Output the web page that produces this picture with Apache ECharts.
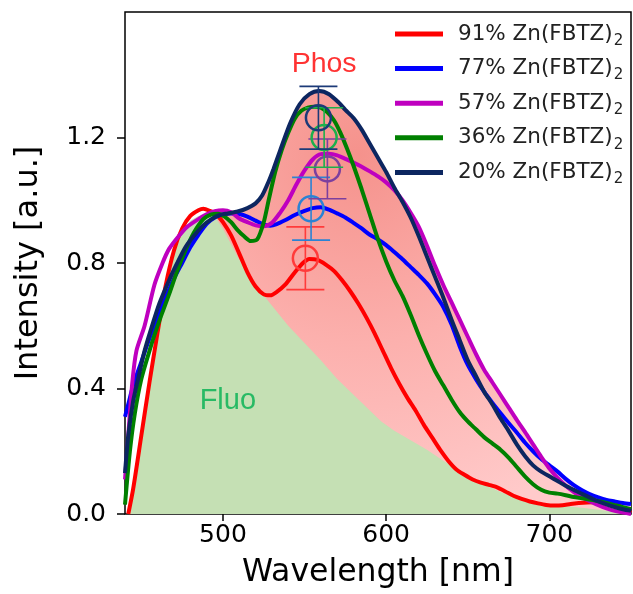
<!DOCTYPE html>
<html>
<head>
<meta charset="utf-8">
<script src="https://cdn.jsdelivr.net/npm/echarts@6/dist/echarts.min.js"></script>
<style>
html,body{margin:0;padding:0;background:#fff;}
#chart{width:633px;height:594px;}
</style>
</head>
<body>
<div id="chart"></div>
<script>
// ---- data (wavelength nm, intensity a.u.) ----
const seriesLabels = ['91%', '77%', '57%', '36%', '20%'];
const compound = 'Zn(FBTZ)';
const subscript = '2';
const seriesColors = ['#ff0000','#0000ff','#bf00bf','#008000','#0c2660'];
const errColors = ['#ff3b3b','#2a83d4','#7d3f9e','#1cb04c','#1c3a78'];

const red91 = [[442,0],[445,0.08],[450,0.25],[455,0.42],[460,0.58],[465,0.73],[470,0.84],[475,0.91],[480,0.95],[485,0.968],[488,0.973],[492,0.966],[496,0.955],[500,0.93],[505,0.888],[510,0.83],[515,0.77],[520,0.725],[525,0.70],[529,0.697],[533,0.708],[538,0.73],[544,0.77],[549,0.80],[553,0.813],[558,0.81],[563,0.795],[568,0.775],[573,0.745],[578,0.71],[583,0.67],[588,0.625],[593,0.575],[598,0.52],[603,0.465],[608,0.415],[613,0.37],[618,0.33],[623,0.285],[628,0.245],[633,0.205],[638,0.17],[643,0.142],[648,0.125],[653,0.11],[658,0.1],[663,0.093],[668,0.085],[673,0.072],[678,0.058],[683,0.048],[688,0.04],[693,0.034],[698,0.029],[703,0.027],[708,0.028],[713,0.032],[718,0.035],[723,0.037],[730,0.038],[737,0.037],[742,0.03],[746,0.015],[750,0.003]];

const blue77 = [[440,0.31],[442,0.35],[445,0.41],[450,0.485],[455,0.56],[460,0.625],[465,0.69],[470,0.75],[475,0.80],[480,0.85],[485,0.89],[490,0.925],[495,0.945],[500,0.955],[505,0.958],[510,0.956],[515,0.948],[520,0.935],[525,0.922],[529,0.919],[533,0.924],[538,0.936],[544,0.953],[550,0.966],[555,0.975],[560,0.978],[565,0.97],[570,0.958],[575,0.945],[580,0.928],[585,0.91],[590,0.89],[595,0.875],[600,0.857],[605,0.835],[610,0.812],[615,0.787],[620,0.762],[625,0.735],[630,0.70],[635,0.66],[640,0.605],[645,0.535],[650,0.475],[655,0.43],[660,0.39],[665,0.355],[670,0.322],[675,0.29],[680,0.26],[685,0.228],[690,0.2],[695,0.175],[700,0.155],[705,0.135],[710,0.112],[715,0.092],[720,0.076],[725,0.063],[730,0.053],[735,0.045],[740,0.04],[745,0.035],[750,0.032]];

const magenta57 = [[440,0.11],[442,0.25],[444.5,0.42],[447,0.52],[452,0.60],[458,0.73],[463,0.80],[467,0.845],[472,0.88],[478,0.915],[485,0.94],[490,0.955],[495,0.965],[500,0.968],[505,0.962],[510,0.942],[515,0.93],[520,0.92],[525,0.917],[530,0.928],[535,0.96],[540,1.0],[545,1.05],[550,1.095],[555,1.13],[560,1.147],[565,1.148],[570,1.143],[575,1.132],[580,1.12],[585,1.107],[590,1.092],[595,1.076],[600,1.057],[605,1.032],[610,1.0],[615,0.96],[620,0.915],[625,0.855],[630,0.79],[635,0.73],[640,0.675],[645,0.62],[650,0.565],[655,0.51],[660,0.46],[665,0.42],[670,0.38],[675,0.34],[680,0.30],[685,0.262],[690,0.222],[695,0.182],[700,0.145],[705,0.115],[710,0.09],[715,0.07],[720,0.053],[725,0.04],[730,0.028],[735,0.018],[740,0.01],[745,0.005],[750,0.0]];

const green36 = [[440,0.03],[443,0.2],[446,0.32],[450,0.43],[455,0.52],[458,0.57],[462,0.63],[467,0.70],[472,0.775],[477,0.84],[482,0.895],[488,0.94],[493,0.955],[497,0.957],[501,0.948],[505,0.93],[509,0.905],[513,0.885],[517,0.87],[521,0.875],[525,0.93],[528,1.0],[532,1.09],[536,1.16],[540,1.215],[544,1.26],[548,1.285],[552,1.295],[556,1.298],[560,1.295],[564,1.28],[568,1.255],[572,1.215],[576,1.165],[580,1.11],[585,1.035],[590,0.955],[595,0.875],[600,0.805],[605,0.745],[610,0.695],[615,0.635],[620,0.57],[625,0.51],[630,0.455],[635,0.41],[640,0.365],[645,0.325],[650,0.295],[655,0.27],[660,0.245],[665,0.225],[670,0.205],[675,0.18],[680,0.15],[685,0.12],[690,0.095],[695,0.077],[700,0.068],[705,0.065],[710,0.06],[715,0.054],[720,0.05],[728,0.043],[735,0.035],[741,0.027],[750,0.015]];

const navy20 = [[440,0.13],[442,0.25],[445,0.36],[448,0.43],[452,0.52],[456,0.59],[461,0.67],[467,0.745],[472,0.80],[477,0.85],[482,0.885],[488,0.92],[493,0.94],[498,0.953],[503,0.958],[509,0.964],[515,0.975],[520,0.99],[524,1.015],[528,1.06],[531,1.1],[535,1.158],[541,1.243],[547,1.306],[553,1.338],[559,1.348],[565,1.338],[571,1.311],[575,1.288],[580,1.262],[585,1.225],[590,1.18],[596,1.126],[600,1.09],[605,1.04],[610,0.995],[615,0.945],[620,0.885],[625,0.82],[630,0.755],[635,0.69],[640,0.62],[645,0.555],[650,0.49],[655,0.44],[660,0.39],[665,0.35],[670,0.305],[675,0.265],[680,0.222],[685,0.185],[690,0.155],[695,0.135],[700,0.12],[705,0.105],[710,0.09],[715,0.077],[720,0.064],[725,0.052],[730,0.04],[737,0.027],[745,0.015],[750,0.01]];

// fluorescence (green) region top edge
const fluoTop = [[440,0],[442,0],[445,0.08],[450,0.25],[455,0.42],[460,0.58],[465,0.73],[470,0.84],[475,0.90],[480,0.935],[485,0.95],[490,0.955],[494,0.955],[500,0.91],[510,0.81],[520,0.73],[526,0.69],[540,0.60],[550,0.545],[560,0.49],[570,0.43],[580,0.38],[590,0.33],[597,0.295],[605,0.265],[615,0.235],[625,0.205],[635,0.17],[648,0.13],[660,0.095],[670,0.07],[678,0.055],[690,0.04],[700,0.03],[710,0.025],[720,0.02],[735,0.01],[750,0]];

// phosphorescence (pink) region top edge
const phosTop = [[494,0.958],[500,0.966],[505,0.967],[510,0.966],[515,0.976],[520,0.99],[524,1.015],[528,1.06],[531,1.1],[535,1.158],[541,1.243],[547,1.306],[553,1.338],[559,1.348],[565,1.338],[571,1.311],[575,1.288],[580,1.262],[585,1.225],[590,1.18],[596,1.126],[600,1.09],[605,1.045],[610,1.0],[615,0.96],[620,0.915],[625,0.855],[630,0.79],[635,0.73],[640,0.675],[645,0.62],[650,0.565],[655,0.51],[660,0.46],[665,0.42],[670,0.38],[675,0.34],[680,0.30],[685,0.262],[690,0.222],[695,0.182],[700,0.155],[705,0.135],[710,0.112],[715,0.092],[720,0.076],[725,0.063],[730,0.053],[740,0.04],[750,0.032]];

// error-bar markers: wavelength, intensity, half-error
const errX = [550.5, 554, 564, 562, 558.5];
const errY = [0.815, 0.973, 1.10, 1.20, 1.263];
const errSize = [0.10, 0.10, 0.095, 0.095, 0.10];

const xTicks = [500, 600, 700];
const yTicks = [0, 0.4, 0.8, 1.2];

const annotations = [
  {text: 'Phos', x: 562, y: 1.435, color: '#ff0000', size: 28.5},
  {text: 'Fluo', x: 503, y: 0.36, color: '#00b050', size: 29}
];

// ---- chart ----
const seriesNames = seriesLabels.map(p => p + ' ' + compound + subscript);
const chart = echarts.init(document.getElementById('chart'), null, {renderer: 'canvas'});
const curves = [red91, blue77, magenta57, green36, navy20];
const font = 'DejaVu Sans';

const series = [];
series.push({
  type: 'line', name: 'phos', data: phosTop, showSymbol: false, silent: true, z: 1,
  lineStyle: {width: 0, opacity: 0}, smooth: 0.2,
  areaStyle: {opacity: 1, color: new echarts.graphic.RadialGradient(0.35, 0.15, 0.9, [
    {offset: 0, color: '#f5928c'}, {offset: 0.5, color: '#fcb0ad'}, {offset: 1, color: '#ffcaca'}])}
});
series.push({
  type: 'line', name: 'fluo', data: fluoTop, showSymbol: false, silent: true, z: 1,
  lineStyle: {width: 0, opacity: 0},
  areaStyle: {opacity: 1, color: '#c5e0b4'}
});
curves.forEach((d, i) => {
  series.push({
    type: 'line', name: seriesNames[i], data: d, showSymbol: false, smooth: 0.25, z: 2 + i * 0.01,
    color: seriesColors[i],
    lineStyle: {width: 4, color: seriesColors[i]}
  });
});
series.push({
  type: 'custom', name: 'err', z: 3,
  data: errX.map((x, i) => [x, errY[i], errSize[i]]),
  encode: {x: 0, y: 1},
  renderItem: function (params, api) {
    const x = api.value(0), y = api.value(1), e = api.value(2);
    const c = api.coord([x, y]);
    const t = api.coord([x, y + e]);
    const b = api.coord([x, y - e]);
    const col = errColors[params.dataIndex];
    const cap = 19;
    const st = {stroke: col, lineWidth: 1.6, fill: null};
    return {type: 'group', children: [
      {type: 'line', shape: {x1: c[0], y1: t[1], x2: c[0], y2: b[1]}, style: st},
      {type: 'line', shape: {x1: c[0] - cap, y1: t[1], x2: c[0] + cap, y2: t[1]}, style: st},
      {type: 'line', shape: {x1: c[0] - cap, y1: b[1], x2: c[0] + cap, y2: b[1]}, style: st},
      {type: 'circle', shape: {cx: c[0], cy: c[1], r: 12.5}, style: {stroke: col, lineWidth: 2.5, fill: null}}
    ]};
  }
});
series.push({
  type: 'scatter', name: 'notes', z: 4, silent: true, symbolSize: 0,
  data: annotations.map(a => ({value: [a.x, a.y], label: {show: true, position: 'inside', formatter: a.text,
    color: a.color, fontSize: a.size, fontFamily: 'Liberation Sans, Arial, sans-serif'}}))
});

chart.setOption({
  animation: false,
  backgroundColor: '#fff',
  grid: {left: 125, right: 2, top: 12, bottom: 79, show: true, borderColor: '#000', borderWidth: 1.5, backgroundColor: 'transparent'},
  legend: {
    orient: 'vertical', left: 395, top: 19.5, padding: 0, itemWidth: 48, itemHeight: 5, itemGap: 5.6,
    data: seriesNames.map(n => ({name: n, icon: 'rect'})),
    formatter: function (name) {
      const base = name.slice(0, -subscript.length);
      return '{a|' + base + '}{s|' + subscript + '}';
    },
    textStyle: {fontFamily: font, fontSize: 21.5, color: '#222', padding: [0, 0, 0, 10],
      rich: {
        a: {fontFamily: font, fontSize: 21.5, color: '#222', lineHeight: 24},
        s: {fontFamily: font, fontSize: 15, color: '#222', lineHeight: 15, padding: [14, 0, 0, 1]}
      }},
    selectedMode: false
  },
  xAxis: {
    type: 'value', min: 440, max: 750,
    name: 'Wavelength [nm]', nameLocation: 'middle', nameGap: 43,
    nameTextStyle: {fontFamily: font, fontSize: 31.5, color: '#000'},
    axisLine: {show: false},
    axisTick: {show: true, length: 7, inside: false, customValues: xTicks, lineStyle: {color: '#000', width: 1.5}},
    axisLabel: {customValues: xTicks, margin: 9, fontFamily: font, fontSize: 25, color: '#000'},
    splitLine: {show: false}
  },
  yAxis: {
    type: 'value', min: 0, max: 1.6,
    name: 'Intensity [a.u.]', nameLocation: 'middle', nameGap: 80,
    nameTextStyle: {fontFamily: font, fontSize: 32, color: '#000'},
    axisLine: {show: false},
    axisTick: {show: true, length: 8, inside: false, customValues: yTicks, lineStyle: {color: '#000', width: 1.5}},
    axisLabel: {customValues: yTicks, margin: 19, fontFamily: font, fontSize: 25, color: '#000',
      formatter: v => v.toFixed(1)},
    splitLine: {show: false}
  },
  series: series
});
</script>
</body>
</html>
